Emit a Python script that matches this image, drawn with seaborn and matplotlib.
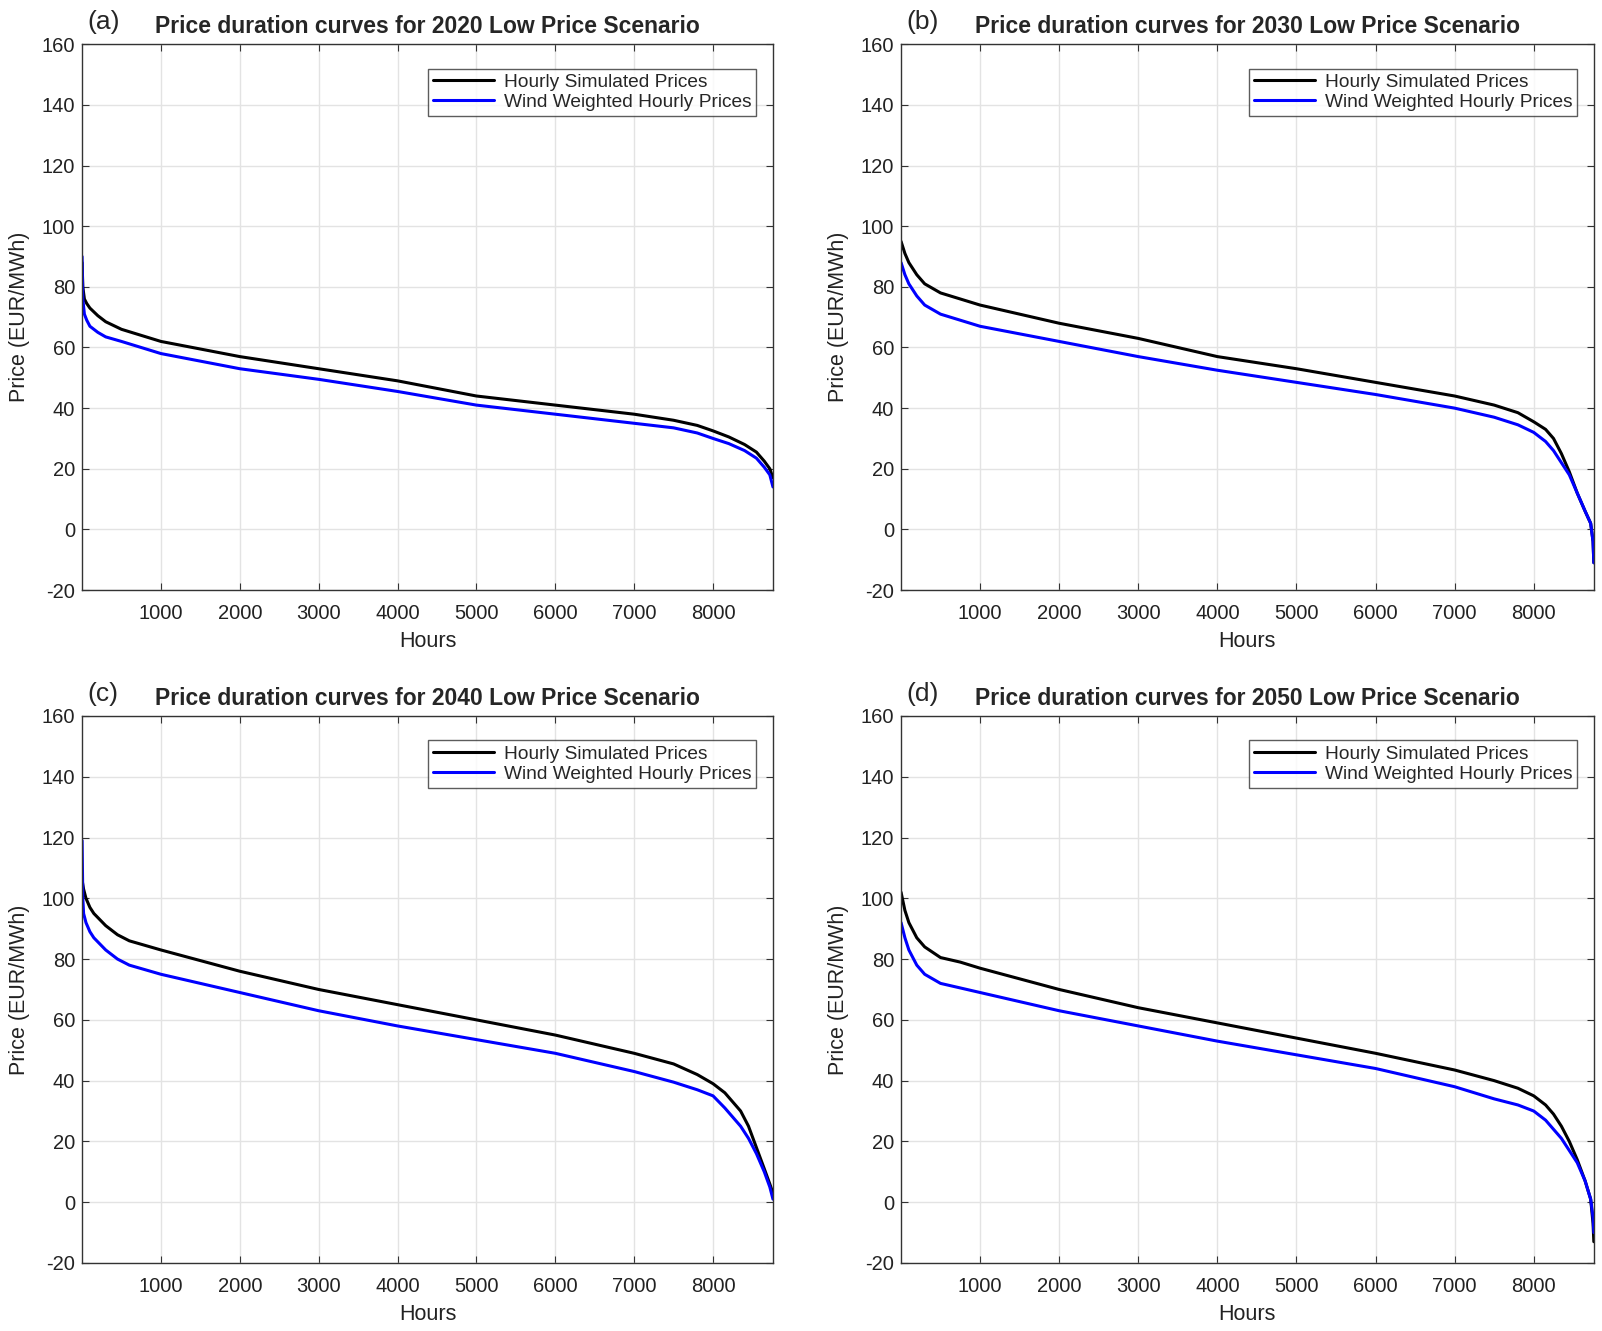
import numpy as np
import pandas as pd
import matplotlib
matplotlib.use('Agg')
import matplotlib.pyplot as plt
import seaborn as sns

# ----------------------------- #
#  Data
# ----------------------------- #
years = ['2020', '2030', '2040', '2050']
panel_labels = ['(a)', '(b)', '(c)', '(d)']

hours_a_sim = [1, 10, 30, 60, 100, 200, 300, 500, 750, 1000, 1500, 2000, 3000, 4000, 5000, 6000, 7000, 7500, 7800, 8000, 8200, 8400, 8550, 8650, 8720, 8760]
price_a_sim = [88, 80, 76, 74.5, 73, 70.5, 68.5, 66, 64, 62, 59.5, 57, 53, 49, 44, 41, 38, 36, 34.3, 32.5, 30.5, 28, 25.5, 22.5, 20, 17]
hours_a_wind = [1, 10, 30, 60, 100, 200, 300, 500, 750, 1000, 1500, 2000, 3000, 4000, 5000, 6000, 7000, 7500, 7800, 8000, 8200, 8400, 8550, 8650, 8720, 8760]
price_a_wind = [90, 76, 71, 69, 67, 65, 63.5, 62, 60, 58, 55.5, 53, 49.5, 45.5, 41, 38, 35, 33.5, 31.8, 30, 28.3, 26, 23.5, 20.5, 18, 14]

hours_b_sim = [1, 50, 100, 200, 300, 500, 750, 1000, 1500, 2000, 3000, 4000, 5000, 6000, 7000, 7500, 7800, 8000, 8150, 8250, 8350, 8450, 8550, 8650, 8720, 8750, 8760]
price_b_sim = [95, 91, 88, 84, 81, 78, 76, 74, 71, 68, 63, 57, 53, 48.5, 44, 41, 38.5, 35.5, 33, 30, 25, 19, 12, 6, 2, -4, -11]
hours_b_wind = [1, 50, 100, 200, 300, 500, 750, 1000, 1500, 2000, 3000, 4000, 5000, 6000, 7000, 7500, 7800, 8000, 8150, 8250, 8350, 8450, 8550, 8650, 8720, 8750, 8760]
price_b_wind = [88, 84, 81, 77, 74, 71, 69, 67, 64.5, 62, 57, 52.5, 48.5, 44.5, 40, 37, 34.5, 32, 29, 26, 22, 18, 12, 6, 2, -4, -11]

hours_c_sim = [1, 20, 50, 100, 150, 300, 450, 600, 1000, 1500, 2000, 3000, 4000, 5000, 6000, 7000, 7500, 7800, 8000, 8150, 8250, 8350, 8450, 8550, 8650, 8720, 8760]
price_c_sim = [106, 103, 100, 97, 95, 91, 88, 86, 83, 79.5, 76, 70, 65, 60, 55, 49, 45.5, 42, 39, 36, 33, 30, 25, 18, 11, 6, 3]
hours_c_wind = [1, 10, 20, 50, 100, 150, 300, 450, 600, 1000, 1500, 2000, 3000, 4000, 5000, 6000, 7000, 7500, 7800, 8000, 8150, 8250, 8350, 8450, 8550, 8650, 8720, 8760]
price_c_wind = [119, 100, 95, 92, 89, 87, 83, 80, 78, 75, 72, 69, 63, 58, 53.5, 49, 43, 39.5, 37, 35, 31, 28, 25, 21, 16, 10, 5, 1]

hours_d_sim = [1, 50, 100, 200, 300, 500, 750, 1000, 1500, 2000, 3000, 4000, 5000, 6000, 7000, 7500, 7800, 8000, 8150, 8250, 8350, 8450, 8550, 8650, 8720, 8750, 8760]
price_d_sim = [102, 96, 92, 87, 84, 80.5, 79, 77, 73.5, 70, 64, 59, 54, 49, 43.5, 40, 37.5, 35, 32, 29, 25, 20, 14, 7, 1, -7, -13]
hours_d_wind = [1, 50, 100, 200, 300, 500, 750, 1000, 1500, 2000, 3000, 4000, 5000, 6000, 7000, 7500, 7800, 8000, 8150, 8250, 8350, 8450, 8550, 8650, 8720, 8750, 8760]
price_d_wind = [92, 87, 83, 78, 75, 72, 70.5, 69, 66, 63, 58, 53, 48.5, 44, 38, 34, 32, 30, 27, 24, 21, 17, 13, 7, 1, -5, -10]

series = [
    (hours_a_sim, price_a_sim, hours_a_wind, price_a_wind),
    (hours_b_sim, price_b_sim, hours_b_wind, price_b_wind),
    (hours_c_sim, price_c_sim, hours_c_wind, price_c_wind),
    (hours_d_sim, price_d_sim, hours_d_wind, price_d_wind),
]

x_ticks = [1000, 2000, 3000, 4000, 5000, 6000, 7000, 8000]
y_ticks = list(range(-20, 161, 20))

# ----------------------------- #
#  Style
# ----------------------------- #
sns.set_style('ticks')
plt.rcParams['font.family'] = ['Liberation Sans', 'DejaVu Sans']
plt.rcParams['axes.unicode_minus'] = False

fig = plt.figure(figsize=(16.02, 13.31), dpi=100)

positions = [
    [0.0512, 0.5567, 0.4313, 0.410],
    [0.5624, 0.5567, 0.4325, 0.410],
    [0.0512, 0.0511, 0.4313, 0.411],
    [0.5624, 0.0511, 0.4325, 0.411],
]

for i, (hs, ps, hw, pw) in enumerate(series):
    ax = fig.add_axes(positions[i])
    df_sim = pd.DataFrame({'Hours': hs, 'Price': ps})
    df_wind = pd.DataFrame({'Hours': hw, 'Price': pw})
    sns.lineplot(data=df_sim, x='Hours', y='Price', color='black', lw=2.2,
                 label='Hourly Simulated Prices', ax=ax)
    sns.lineplot(data=df_wind, x='Hours', y='Price', color='#0000ff', lw=2.2,
                 label='Wind Weighted Hourly Prices', ax=ax)

    ax.set_xlim(0, 8760)
    ax.set_ylim(-20, 160)
    ax.set_xticks(x_ticks)
    ax.set_yticks(y_ticks)
    ax.grid(True, color='#e3e3e3', lw=1.0)
    ax.tick_params(direction='in', top=True, right=True, labelsize=14.5,
                   length=5, color='#333333', labelcolor='#222222')
    ax.tick_params(axis='x', pad=10)
    ax.tick_params(axis='y', pad=5)
    for sp in ax.spines.values():
        sp.set_color('#333333')
        sp.set_linewidth(1.0)
    ax.set_xlabel('Hours', fontsize=15.5, color='#222222', labelpad=6)
    ax.set_ylabel('Price (EUR/MWh)', fontsize=15.5, color='#222222', labelpad=8)
    ax.set_title('Price duration curves for %s Low Price Scenario' % years[i],
                 fontsize=16.5, fontweight='bold', pad=8)
    ax.text(0.008, 1.04, panel_labels[i], transform=ax.transAxes,
            fontsize=19, ha='left', va='center')

    leg = ax.legend(loc='upper right', bbox_to_anchor=(0.99, 0.973), fontsize=13.8,
                    frameon=True, fancybox=False, handlelength=3.2,
                    borderpad=0.25, labelspacing=0.15, handletextpad=0.5)
    leg.get_frame().set_edgecolor('#333333')
    leg.get_frame().set_linewidth(1.0)

fig.savefig('out.png', dpi=100)
